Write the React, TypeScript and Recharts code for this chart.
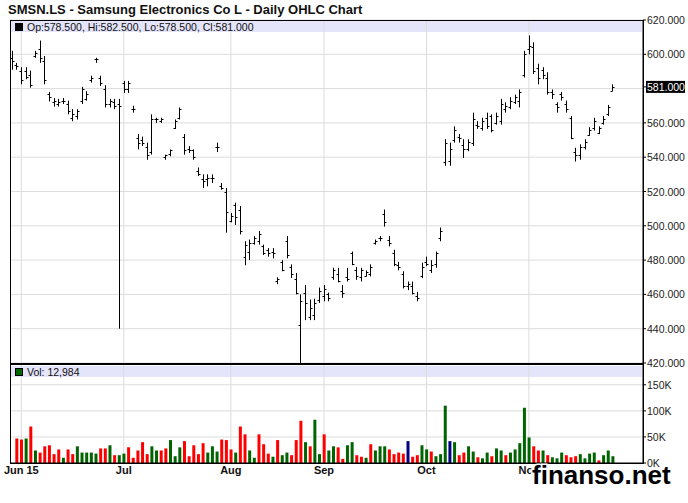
import { ComposedChart, Bar, Cell, XAxis, YAxis, CartesianGrid } from 'recharts'

// daily bars, May 28 .. Nov 26 (index 0 = first bar on the left)
const OPEN = [
  598, 594, 590, 590, 588, 599, 603, 596, 577, 572,
  571, 573, 571, 563, 564, 573, 574, 585, 597, 586,
  580, 571, 572, 571, 583, 580, 568, 551, 550, 546,
  543, 562, 561, 540, 542, 557, 563, 552, 545, 544,
  532, 527, 527, 528, 546, 523, 520, 503, 512, 509,
  482, 485, 490, 491, 488, 486, 485, 468, 479, 491,
  476, 469, 442, 461, 447, 448, 457, 459, 460, 470,
  472, 462, 470, 484, 474, 470, 471, 472, 490, 493,
  507, 492, 484, 477, 472, 465, 465, 459, 471, 479,
  474, 478, 493, 537, 538, 550, 552, 547, 545, 548,
  559, 557, 563, 564, 560, 561, 568, 569, 572, 573,
  588, 603, 604, 592, 591, 586, 578, 571, 577, 571,
  563, 543, 541, 546, 553, 557, 554, 560, 565, 578.5,
]
const HIGH = [
  602, 595, 592.5, 592.5, 590.5, 602, 608, 599, 578, 574.5,
  574, 574.5, 573, 568, 568, 581, 578.5, 587.5, 598, 587.5,
  582, 574, 574, 574, 584.5, 584.5, 570, 553.5, 552, 548.5,
  565, 563, 563, 541.5, 544.5, 562, 569, 553.5, 546.5, 544.5,
  534, 530, 530, 530, 548.5, 525, 522, 507.5, 513.5, 511.5,
  491, 492, 494, 497, 489, 487, 487, 470, 480, 494,
  477.5, 472.5, 460, 465.5, 457, 457.5, 464, 465.5, 461, 475.5,
  475.5, 465.5, 475.5, 485, 476, 475.5, 474, 477.5, 492, 494,
  509.5, 494, 486, 479, 473.5, 467.5, 467.5, 461.5, 478.5, 482,
  480, 485, 499, 550.5, 548.5, 558, 553.5, 550.5, 550.5, 566,
  561, 563, 566, 565, 566, 574, 572, 575, 576.5, 579.5,
  602, 611, 607, 594.5, 592.5, 589.5, 579.5, 572, 578, 573,
  564, 545.5, 547.5, 550.5, 557.5, 563, 558, 564, 570.5, 582.5,
]
const LOW = [
  591, 591, 582.5, 585.5, 580.5, 598, 595, 582.5, 572.5, 569.5,
  569.5, 571, 565, 561, 562, 571, 573, 583.5, 595, 581.5,
  569, 569, 568, 440, 577.5, 577.5, 566, 544.5, 546.5, 538.5,
  541.5, 560, 560, 538.5, 540.5, 556.5, 562, 541.5, 542.5, 538.5,
  529, 522, 523, 525, 543, 521, 496, 502, 500.5, 495,
  477, 480, 489, 489, 483, 482, 481, 466, 473.5, 481,
  469.5, 460, 420, 445, 445, 445, 455, 456, 456, 468.5,
  467, 458, 467.5, 477, 468.5, 467.5, 470.5, 470.5, 489, 491,
  499.5, 488, 476.5, 474, 463.5, 462.5, 460, 456, 469.5, 476.5,
  472.5, 475.5, 491, 535, 535, 548.5, 548.5, 539.5, 543.5, 546.5,
  556.5, 555.5, 556.5, 554.5, 559, 559, 566, 568, 571, 569,
  586.5, 600, 588.5, 582.5, 585.5, 576.5, 574, 566, 573, 566,
  550.5, 537.5, 538.5, 544.5, 552.5, 555.5, 553.5, 559, 564, 578.5,
]
const CLOSE = [
  596, 593, 585, 587, 582, 601, 598, 585, 575, 573,
  572, 573, 567, 565, 567, 580, 577, 586, 597, 583,
  571, 573, 570, 570, 580, 583, 568, 548, 548, 541,
  562, 562, 562, 541, 544, 561, 568, 544, 544, 540,
  530, 526, 528, 528, 546, 522, 508, 506, 505, 497,
  489, 490, 493, 495, 484, 484, 484, 469, 474, 483,
  472, 461, 456, 455, 452, 455, 462, 463, 458, 474,
  468, 461, 469, 478, 471, 474, 473, 476, 491, 493,
  502, 490, 478, 476, 465, 466, 461, 458, 476, 478,
  477, 484, 497, 548, 545, 556, 551, 545, 549, 562,
  558, 561, 558, 556, 564, 571, 570, 573, 575, 578,
  600, 605, 590, 586, 588, 578, 577, 569, 575, 568,
  551, 541, 546, 549, 556, 561, 557, 562, 569, 581,
]
// volume in thousands, none shown for the first bar
const VOLUME = [
  null, 47, 45, 47, 70, 24, 20, 32, 34, 17,
  26, 10, 26, 17, 32, 20, 20, 20, 18, 28,
  28, 34, 15, 15, 18, 30, 10, 24, 40, 17,
  32, 24, 24, 28, 44, 13, 30, 42, 13, 34,
  17, 38, 20, 32, 22, 45, 44, 26, 20, 70,
  55, 24, 10, 55, 36, 18, 12, 44, 15, 20,
  15, 44, 81, 40, 32, 83, 17, 55, 24, 32,
  30, 8, 34, 40, 15, 12, 10, 36, 24, 32,
  32, 26, 17, 20, 18, 42, 12, 15, 34, 26,
  22, 13, 17, 110, 42, 40, 15, 20, 32, 22,
  11, 9, 20, 13, 28, 24, 15, 20, 26, 38,
  106, 49, 32, 24, 24, 15, 11, 9, 20, 15,
  11, 13, 17, 9, 18, 20, 5, 15, 24, 12.984,
]
// r = down, g = up, b = unchanged
const VOLUME_DIR = (
  '-' +
  'rrgrgrrrrr' + 'grrgggggrr' + 'grggrrrrrg' + 'grrgggrrrr' + 'rgggrrrgrr' +
  'ggrrrgrggr' + 'rrgrggrggr' + 'rggrrgrggg' + 'rrrrbrrggr' + 'gggbgrrggr' +
  'ggrggrgggg' + 'grrgrgggrr' + 'rggggrggg'
).split('')

const MONTH_TICKS = [2, 24, 47, 67, 89, 111]
const MONTH_LABELS = ['Jun 15', 'Jul', 'Aug', 'Sep', 'Oct', 'Nov']
const PRICE_GRID = [420, 440, 460, 480, 500, 520, 540, 560, 580, 600, 620]
const PRICE_TICKS = [420, 440, 460, 480, 500, 520, 540, 560, 581, 600, 620]
const VOLUME_TICKS = [0, 50, 100, 150]
const LAST_CLOSE = 581

const DIR_COLOR: Record<string, string> = { r: '#ff0000', g: '#006400', b: '#000080' }
const FONT = '"Liberation Sans", Arial, sans-serif'
const X_DOMAIN = [-0.43, 135.5]

const rows = OPEN.map((o, i) => ({
  i,
  open: o,
  high: HIGH[i],
  low: LOW[i],
  close: CLOSE[i],
  vol: VOLUME[i],
  dir: VOLUME_DIR[i],
}))

function OhlcBar(props: any) {
  const { x, y, width, height, payload } = props
  const top = Math.min(y, y + height)
  const bot = Math.max(y, y + height)
  const span = payload.high - payload.low || 1
  const cx = Math.round(x + width / 2) + 0.5
  const yo = Math.round(top + ((payload.high - payload.open) / span) * (bot - top)) + 0.5
  const yc = Math.round(top + ((payload.high - payload.close) / span) * (bot - top)) + 0.5
  return (
    <g stroke="#000" strokeWidth={1}>
      <line x1={cx} x2={cx} y1={top} y2={Math.max(bot, top + 1)} />
      <line x1={cx - 2} x2={cx} y1={yo} y2={yo} />
      <line x1={cx} x2={cx + 2} y1={yc} y2={yc} />
    </g>
  )
}

function PriceTick(props: any) {
  const { x, y, payload } = props
  const label = Number(payload.value).toFixed(3)
  if (payload.value === LAST_CLOSE) {
    return (
      <g>
        <rect x={x - 1} y={y - 6} width={39} height={12} fill="#000" />
        <text x={x} y={y + 4} fontSize={10.5} fontFamily={FONT} fill="#fff">{label}</text>
      </g>
    )
  }
  return <text x={x} y={y + 4} fontSize={10.5} fontFamily={FONT} fill="#222">{label}</text>
}

function VolumeTick(props: any) {
  const { x, y, payload } = props
  return <text x={x} y={y + 4} fontSize={10.5} fontFamily={FONT} fill="#222">{`${payload.value}K`}</text>
}

function MonthTick(props: any) {
  const { x, y, payload, index } = props
  return (
    <text x={x} y={y + 8} textAnchor="middle" fontSize={11} fontWeight="bold" fontFamily={FONT} fill="#111">
      {MONTH_LABELS[index] ?? payload.value}
    </text>
  )
}

export default function App() {
  const layer = { position: 'absolute' as const, left: 0, top: 0 }
  return (
    <div style={{ position: 'absolute', left: 0, top: 0, width: 688, height: 503, background: '#fff', fontFamily: FONT }}>
      {/* header bands sit under the grid */}
      <svg width={688} height={503} style={layer}>
        <rect x={11} y={21} width={631} height={11} fill="#e4e4fa" />
        <rect x={11} y={366} width={631} height={11} fill="#e4e4fa" />
      </svg>

      <div style={layer}>
        <ComposedChart width={688} height={370} data={rows} margin={{ top: 20, right: 0, bottom: 7, left: 10 }}>
          <CartesianGrid stroke="#dcdcdc" horizontalValues={PRICE_GRID} verticalValues={MONTH_TICKS} />
          <XAxis type="number" dataKey="i" domain={X_DOMAIN} allowDataOverflow hide />
          <YAxis
            orientation="right"
            width={45}
            domain={[420, 620]}
            ticks={PRICE_TICKS}
            interval={0}
            allowDataOverflow
            axisLine={{ stroke: '#000' }}
            tickLine={{ stroke: '#000' }}
            tickSize={3}
            tickMargin={1}
            tick={<PriceTick />}
          />
          <Bar dataKey={(d: any) => [d.low, d.high]} barSize={5} shape={<OhlcBar />} isAnimationActive={false} />
        </ComposedChart>
      </div>

      <div style={layer}>
        <ComposedChart width={688} height={503} data={rows} margin={{ top: 365, right: 0, bottom: 20, left: 10 }}>
          <CartesianGrid stroke="#dcdcdc" horizontalValues={[50, 100, 150]} verticalValues={MONTH_TICKS} />
          <XAxis
            type="number"
            dataKey="i"
            domain={X_DOMAIN}
            allowDataOverflow
            ticks={MONTH_TICKS}
            interval={0}
            height={20}
            axisLine={{ stroke: '#000' }}
            tickLine={false}
            tickSize={0}
            tickMargin={3}
            tick={<MonthTick />}
          />
          <YAxis
            orientation="right"
            width={45}
            domain={[0, 188]}
            ticks={VOLUME_TICKS}
            interval={0}
            allowDataOverflow
            axisLine={{ stroke: '#000' }}
            tickLine={{ stroke: '#000' }}
            tickSize={3}
            tickMargin={1}
            tick={<VolumeTick />}
          />
          <Bar dataKey="vol" barSize={3} isAnimationActive={false}>
            {rows.map((r) => (
              <Cell key={r.i} fill={DIR_COLOR[r.dir] ?? '#fff'} />
            ))}
          </Bar>
        </ComposedChart>
      </div>

      {/* frame, titles and legends */}
      <svg width={688} height={503} style={layer} fontFamily={FONT}>
        <text x={8} y={14} fontSize={13} fontWeight="bold" fill="#111">
          SMSN.LS - Samsung Electronics Co L - Daily OHLC Chart
        </text>
        <rect x={10.5} y={20.5} width={633} height={343} fill="none" stroke="#000" />
        <rect x={10.5} y={364.5} width={633} height={99} fill="none" stroke="#000" />
        <rect x={15.5} y={23.5} width={7} height={7} fill="#000" stroke="#000" />
        <text x={27} y={31} fontSize={10.5} fill="#111">
          Op:578.500, Hi:582.500, Lo:578.500, Cl:581.000
        </text>
        <rect x={15.5} y={368.5} width={7} height={7} fill="#006400" stroke="#000" />
        <text x={27} y={376} fontSize={10.5} fill="#111">Vol: 12,984</text>
        <text
          x={532}
          y={484}
          fontSize={26}
          fontWeight="bold"
          fill="#000"
          stroke="#fff"
          strokeWidth={3}
          paintOrder="stroke"
        >
          finanso.net
        </text>
      </svg>
    </div>
  )
}
